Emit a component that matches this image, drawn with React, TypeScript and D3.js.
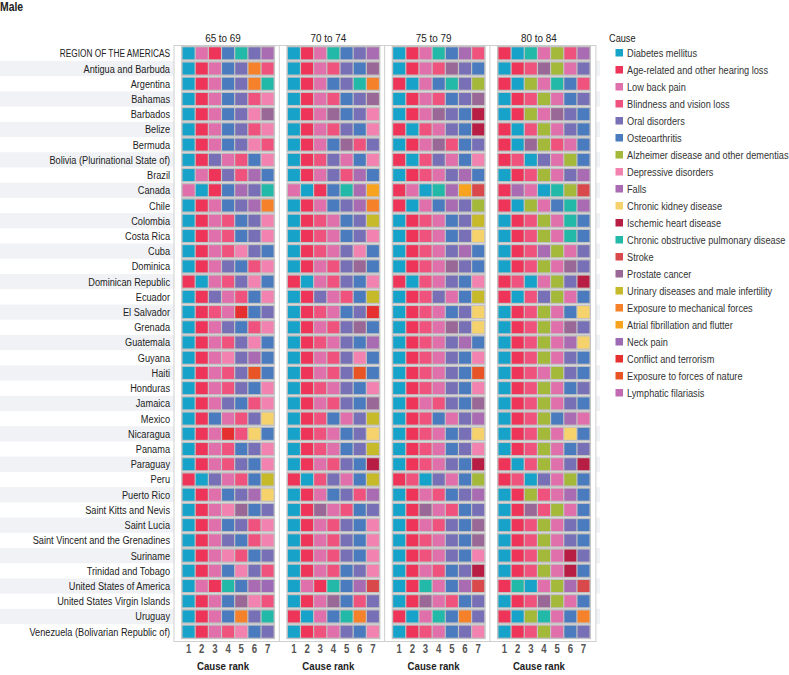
import React from "react";
import * as d3 from "d3";

const causes = [
  "Diabetes mellitus",
  "Age-related and other hearing loss",
  "Low back pain",
  "Blindness and vision loss",
  "Oral disorders",
  "Osteoarthritis",
  "Alzheimer disease and other dementias",
  "Depressive disorders",
  "Falls",
  "Chronic kidney disease",
  "Ischemic heart disease",
  "Chronic obstructive pulmonary disease",
  "Stroke",
  "Prostate cancer",
  "Urinary diseases and male infertility",
  "Exposure to mechanical forces",
  "Atrial fibrillation and flutter",
  "Neck pain",
  "Conflict and terrorism",
  "Exposure to forces of nature",
  "Lymphatic filariasis",
];
const causeCodes = ["D", "H", "L", "B", "O", "A", "Z", "P", "F", "K", "I", "C", "S", "R", "U", "M", "T", "N", "W", "E", "Y"];
const causeColors = [
  "#17a3c9", "#ee3458", "#e070ab", "#f0527e", "#7870b6", "#4a7bbf", "#a4b83a",
  "#f283b0", "#a96bb1", "#f6d26c", "#b81d44", "#22b9a8", "#d9484a", "#9a6896",
  "#c6b92a", "#f5822a", "#f8a31f", "#9d6bb6", "#e5302f", "#e85426", "#c16ab1",
];

const countries = [
  "REGION OF THE AMERICAS", "Antigua and Barbuda", "Argentina", "Bahamas", "Barbados", "Belize",
  "Bermuda", "Bolivia (Plurinational State of)", "Brazil", "Canada", "Chile", "Colombia",
  "Costa Rica", "Cuba", "Dominica", "Dominican Republic", "Ecuador", "El Salvador", "Grenada",
  "Guatemala", "Guyana", "Haiti", "Honduras", "Jamaica", "Mexico", "Nicaragua", "Panama",
  "Paraguay", "Peru", "Puerto Rico", "Saint Kitts and Nevis", "Saint Lucia",
  "Saint Vincent and the Grenadines", "Suriname", "Trinidad and Tobago",
  "United States of America", "United States Virgin Islands", "Uruguay",
  "Venezuela (Bolivarian Republic of)",
];

const ageGroups = ["65 to 69", "70 to 74", "75 to 79", "80 to 84"];
const ranks = ["1", "2", "3", "4", "5", "6", "7"];

// Each string: causes ranked 1..7 (codes from causeCodes), one per country
const age65to69 = [
  "DLHACOF", "DHLAOMB", "DHLAOMC", "DHLAOBP", "DHLAOPR", "DHLAOBP", "DHLAOPB", "DHOLBAP",
  "DLHOBFA", "LDHAFOC", "DHLAOFM", "DHLBAOP", "DHLBAOP", "DHLBPOA", "DHLOABP", "HDLBOPA",
  "DHOLBAP", "DHBLWAO", "DHLOABP", "DHLBOPA", "DHLPOFA", "DHLBOEA", "DHLBOAP", "DHLOABP",
  "DHALBOK", "DHLWBKA", "DHLBAOP", "DHLBOAP", "HDOLBAU", "DHLAOFK", "DHLPRAO", "DHLAOBP",
  "DHLOABP", "DHLPBAO", "DHLAPOB", "DLHCAFN", "DHLARPB", "DHLAMOC", "DHLBPAO",
];
const age70to74 = [
  "DHLCAOF", "DHLBOAR", "DHLAOCM", "DHLBAOR", "DHLRAOP", "DHLBOAP", "DHLARBO", "DHBOLAP",
  "DHLOBFA", "LDHACFT", "DHLAOFM", "DHBLAOU", "DHBLAOP", "DHBLOPA", "DHLBORA", "HDLBOAP",
  "DHOLBAU", "DHBLAOW", "DHLBORA", "DHBLOAF", "DHLBOPA", "DHLBOEA", "DHBLOAP", "DHLBOAR",
  "DHBALOU", "DHBLAOK", "DHBLAOU", "DHLBOAI", "HDBOLAU", "DHLAOBF", "DHRLBAO", "DHLBOAP",
  "DHLBOAP", "DHLBOAP", "DHLBAOP", "DLHCAFS", "DHLRABO", "HDLACMO", "DHBLOAP",
];
const age75to79 = [
  "DHLCAFB", "DHLBROA", "HDLACOZ", "DHLBAOR", "DHLROAI", "HDBLOAI", "DHLRBAO", "HDBOLAP",
  "DHBLOFA", "HLDCFTS", "HDLAFOZ", "DHBLAOU", "DHBLAOK", "DHBLOFA", "DHBLROA", "HDBLOAP",
  "DHBOLAU", "DHBLAOK", "DHBLROK", "DHBLOFA", "DHBLOAP", "DHBLOAE", "DHBLOAP", "DHLBOAR",
  "DHBALOF", "DHBLAOK", "DHBLAOP", "DHBLOAI", "HBDOLAZ", "DHLBAOF", "DHRLBAO", "DHLBOAR",
  "DHBLOAR", "DHBLOAP", "DHLBAOI", "DHCLAFS", "DHRLBAO", "HDLCAMO", "DHBLAOP",
];
const age80to84 = [
  "HDCLZBF", "DHBRZLO", "HDZLCAB", "DHBZLAO", "DHZLROA", "HDBZLOA", "HDRZBLA", "HBDOLZA",
  "DHBZLOF", "HFLDCZS", "HDZLACF", "DHBZLCA", "DHBZLCA", "DHBFZLO", "DHBZLRO", "HBDLZOI",
  "HDBOZLA", "DHBZLAK", "DHBZLRO", "DHBZLFK", "DHBZLOA", "DHBLZOA", "DHBZLAO", "DHBZLOA",
  "DHBZAFL", "DHBZLKA", "DHBZLAO", "HDBZLOI", "HBDOLZA", "DHZBLFA", "DHRBZLA", "DHBZLOA",
  "DHBZLOA", "DHBZLIO", "DHBZLIA", "HCDLZFS", "DHBRZLA", "HDZCLAM", "DHBZLAO",
];
const panels = [age65to69, age70to74, age75to79, age80to84];

const FONT = "'Liberation Sans', Arial, sans-serif";
const SX = 0.8;

function T(props: { x: number; y: number; size?: number; anchor?: string; fill?: string; weight?: string; italic?: boolean; sx?: number; children: React.ReactNode }) {
  const { x, y, size = 11.5, anchor = "start", fill = "#222", weight = "normal", italic = false, sx = SX, children } = props;
  return (
    <text
      transform={`translate(${x},${y}) scale(${sx},1)`}
      fontSize={size}
      textAnchor={anchor}
      fill={fill}
      fontWeight={weight}
      fontStyle={italic ? "italic" : "normal"}
    >
      {children}
    </text>
  );
}

export default function App() {
  const W = 789, H = 675;
  const color = d3.scaleOrdinal<string, string>().domain(causeCodes).range(causeColors);
  const y = d3.scaleBand<string>().domain(countries).range([45.7, 45.7 + 39 * 15.22]).paddingInner(0.212).paddingOuter(0.106);
  const x = d3.scaleBand<string>().domain(ranks).range([0, 7 * 13.17]).paddingInner(0.09).paddingOuter(0.045);
  const px = d3.scaleLinear().domain([0, 3]).range([182, 182 + 3 * 105.3]);
  const legendY = d3.scaleLinear().domain([0, causes.length - 1]).range([53, 393]);
  const step = y.step();
  const bw = y.bandwidth();

  return (
    <svg width={W} height={H} style={{ position: "absolute", left: 0, top: 0, background: "#fff" }} fontFamily={FONT}>
      <T x={0} y={11} size={13} weight="bold">Male</T>
      {countries.map((c, i) =>
        i % 2 === 1 ? (
          <rect key={"s" + c} x={0} y={(y(c) as number) - (step - bw) / 2} width={600} height={step} fill="#f1f2f6" />
        ) : null
      )}
      {countries.map((c, i) => (
        <T key={"l" + c} x={170} y={(y(c) as number) + bw / 2 + 4} anchor="end" sx={i === 0 ? 0.72 : SX}>{c}</T>
      ))}
      {panels.map((rows, p) => {
        const x0 = px(p);
        return (
          <g key={"p" + p}>
            <rect x={x0 - 8} y={45.5} width={106} height={596} fill="#fff" stroke="#cfcfcf" strokeWidth={1} />
            <T x={x0 + 41} y={42} anchor="middle" sx={0.86}>{ageGroups[p]}</T>
            {countries.map((c, i) => {
              const top = y(c) as number;
              return (
                <g key={c}>
                  <rect x={x0 - 0.9} y={top - 1.5} width={7 * 13.17 + 1.8} height={bw + 3} fill="#c3c3c3" />
                  {ranks.map((r, k) => (
                    <rect key={r} x={x0 + (x(r) as number)} y={top} width={x.bandwidth()} height={bw} fill={color(rows[i][k])} />
                  ))}
                </g>
              );
            })}
            {ranks.map((r) => (
              <T key={"t" + r} x={x0 + (x(r) as number) + x.bandwidth() / 2} y={653} size={12} anchor="middle" fill="#555" weight="bold">{r}</T>
            ))}
            <T x={x0 + 41} y={670} anchor="middle" weight="bold" sx={0.84}>Cause rank</T>
          </g>
        );
      })}
      <T x={609} y={42}>Cause</T>
      {causes.map((c, i) => (
        <g key={"lg" + c}>
          <rect x={615.5} y={legendY(i) - 4} width={7.5} height={7.5} fill={causeColors[i]} />
          <T x={627} y={legendY(i) + 4} fill="#333">{c}</T>
        </g>
      ))}
      <T x={745} y={683} size={10} italic fill="#444">(Continued)</T>
    </svg>
  );
}
